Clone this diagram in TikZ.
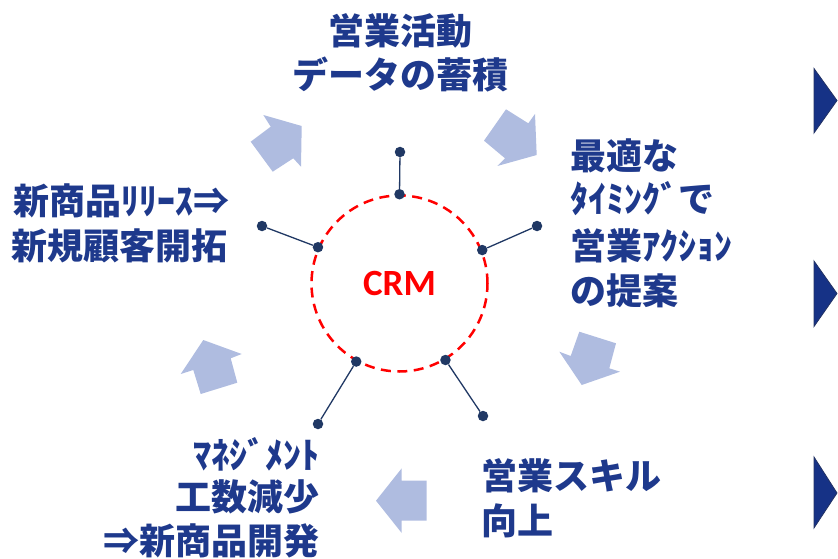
\documentclass[tikz,border=0pt]{standalone}
\usepackage{fontspec}
\newfontfamily\jp{Noto Sans CJK JP}
\newfontfamily\crmfont{Carlito}
\definecolor{txtblue}{RGB}{30,57,140}
\definecolor{arrowfill}{RGB}{175,188,224}
\definecolor{navy}{RGB}{32,56,100}
\definecolor{trifill}{RGB}{22,50,134}
\definecolor{tridraw}{RGB}{35,50,100}
\begin{document}
\begin{tikzpicture}[x=1pt,y=-1pt,
  lbl/.style={font=\jp\bfseries\fontsize{36}{40}\selectfont, text=txtblue, inner sep=0pt},
  blk/.style={fill=arrowfill, draw=none},
  tri/.style={fill=trifill, draw=tridraw, line width=0.8pt, line join=miter},
  dot/.style={circle, fill=navy, inner sep=0pt, minimum size=10.5pt},
  spoke/.style={draw=navy, line width=1.3pt}]
\useasboundingbox (0,0) rectangle (838,559);

% block arrows
\fill[blk] (263.3,115) -- (301.7,126) -- (301,166.7) -- (293.3,158.3) -- (272.7,171.7) -- (250.7,141.7) -- (270.7,126.7) -- cycle;
\fill[blk] (506,109.3) -- (528.3,123.3) -- (535,114) -- (536.7,155) -- (497.3,166) -- (505,158.3) -- (484,140.7) -- cycle;
\fill[blk] (579.3,331.7) -- (616,343.3) -- (609.3,368.3) -- (620,371.7) -- (581.7,385) -- (559.3,351.7) -- (570.7,356) -- cycle;
\fill[blk] (376,500.7) -- (401.7,468.3) -- (401.7,480.7) -- (426.7,480.7) -- (426.7,520.7) -- (401.7,520.7) -- (401.7,533) -- cycle;
\fill[blk] (203.3,340) -- (241.7,354) -- (230.7,358.3) -- (237.3,382.7) -- (200.7,394) -- (193.3,370) -- (180.7,374) -- cycle;

% right triangles
\filldraw[tri] (814,68.5) -- (837,100.5) -- (814,133) -- cycle;
\filldraw[tri] (814,261) -- (837,293.5) -- (814,326.5) -- cycle;
\filldraw[tri] (814,457) -- (837,493) -- (814,528) -- cycle;

% CRM circle
\node[circle, draw=red, line width=2.5pt, dash pattern=on 10pt off 6.5pt,
      minimum size=176pt, inner sep=0pt, text=red,
      font=\crmfont\bfseries\fontsize{37}{40}\selectfont] (crm) at (399.5,283.5) {CRM};

% dots
\node[dot] (i1) at (crm.90) {};
\node[dot] (i2) at (crm.156.4) {};
\node[dot] (i3) at (crm.22) {};
\node[dot] (i4) at (crm.241.4) {};
\node[dot] (i5) at (crm.301.6) {};
\node[dot] (o1) at (400,152) {};
\node[dot] (o2) at (262,226) {};
\node[dot] (o3) at (537,226) {};
\node[dot] (o4) at (318,424) {};
\node[dot] (o5) at (483,416) {};
\draw[spoke] (i1) -- (o1);
\draw[spoke] (i2) -- (o2);
\draw[spoke] (i3) -- (o3);
\draw[spoke] (i4) -- (o4);
\draw[spoke] (i5) -- (o5);

% labels
\node[lbl, anchor=base] (top1) at (400,44.5) {営業活動};
\node[lbl, anchor=base] (top2) at (400,89) {データの蓄積};

\node[lbl, anchor=base west] (r1) at (570,169.5) {最適な};
\node[lbl, anchor=base west] (r2) at (570,212.5) {ﾀｲﾐﾝｸﾞで};
\node[lbl, anchor=base west] (r3) at (570,259.5) {営業ｱｸｼｮﾝ};
\node[lbl, anchor=base west] (r4) at (570,304.5) {の提案};

\node[lbl, anchor=base] (l1) at (121,214.5) {新商品ﾘﾘｰｽ⇒};
\node[lbl, anchor=base] (l2) at (120,259.5) {新規顧客開拓};

\node[lbl, anchor=base east] (b1) at (320,468) {ﾏﾈｼﾞﾒﾝﾄ};
\node[lbl, anchor=base east] (b2) at (320,510.5) {工数減少};
\node[lbl, anchor=base east] (b3) at (320,554.5) {⇒新商品開発};

\node[lbl, anchor=base west] (s1) at (481,489.5) {営業スキル};
\node[lbl, anchor=base west] (s2) at (481,534.5) {向上};
\end{tikzpicture}
\end{document}
